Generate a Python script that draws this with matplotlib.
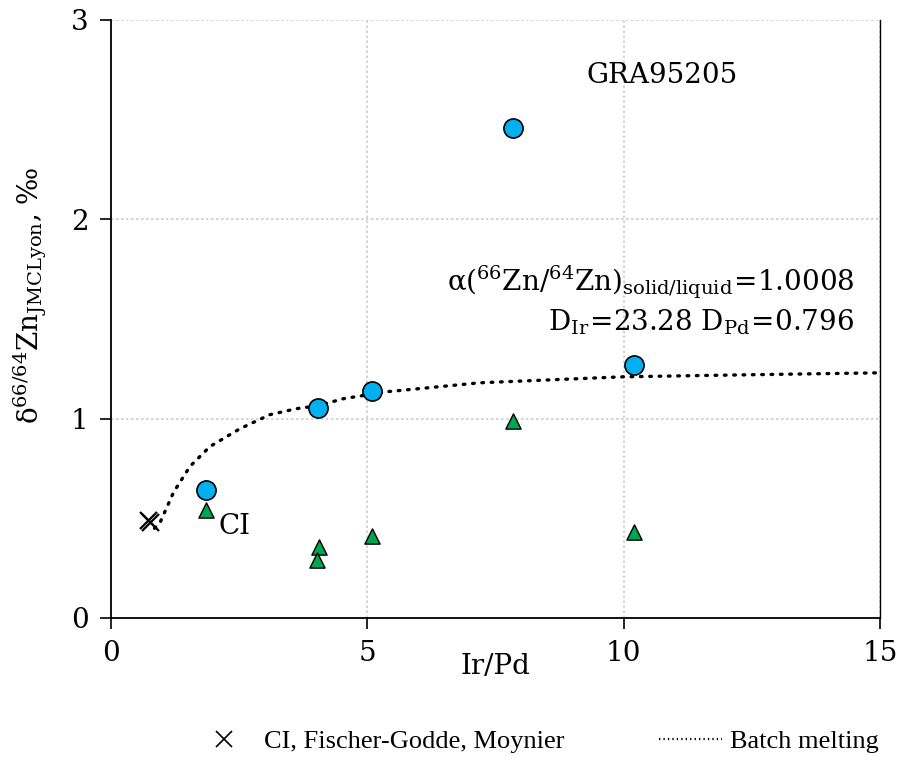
import matplotlib
matplotlib.use("Agg")
import matplotlib.pyplot as plt
from matplotlib.lines import Line2D

plt.rcParams['font.family'] = ['DejaVu Serif']
plt.rcParams['mathtext.fontset'] = 'dejavuserif'

# Measured samples: Ir/Pd ratio vs delta66Zn
circle_x = [1.85, 4.04, 5.09, 7.84, 10.2]
circle_y = [0.64, 1.055, 1.14, 2.46, 1.27]

triangle_x = [1.85, 4.06, 4.02, 5.09, 7.84, 10.2]
triangle_y = [0.54, 0.356, 0.29, 0.41, 0.99, 0.43]

# CI chondrite reference values
ci_x = [0.72, 0.76]
ci_y = [0.49, 0.48]

# Batch melting model curve
batch_x = [0.85, 0.96, 1.22, 1.54, 1.93, 2.52, 3.10, 3.62, 4.04, 4.53, 5.38,
           7.2, 10.0, 12.4, 15.0]
batch_y = [0.45, 0.48, 0.63, 0.76, 0.86, 0.95, 1.02, 1.05, 1.065, 1.10, 1.135,
           1.18, 1.21, 1.22, 1.23]

fig = plt.figure(figsize=(9.02, 7.8), dpi=100)
ax = fig.add_axes([0.123, 0.2077, 0.8526, 0.7667])

ax.plot(batch_x, batch_y, color='black', lw=2.4, linestyle=(0, (0.5, 2.3)),
        dash_capstyle='round', zorder=2)
ax.scatter(ci_x, ci_y, marker='x', s=150, color='black', lw=1.6, zorder=3)
ax.scatter(circle_x, circle_y, marker='o', s=190, color='#00b0f0',
           edgecolor='black', lw=1.2, zorder=4)
ax.scatter(triangle_x, triangle_y, marker='^', s=120, color='#00a651',
           edgecolor='black', lw=1.0, zorder=4)

ax.set_xlim(0, 15)
ax.set_ylim(0, 3)
ax.set_xticks([0, 5, 10, 15])
ax.set_yticks([0, 1, 2, 3])
ax.grid(True, color='#cccccc', linestyle=(0, (1.5, 1.5)), lw=1.2)
ax.set_axisbelow(True)
ax.spines['top'].set_visible(False)
ax.spines['right'].set_linewidth(1.0)
ax.spines['left'].set_linewidth(1.3)
ax.spines['bottom'].set_linewidth(1.3)
ax.tick_params(axis='both', labelsize=20, length=8, width=1.2, pad=8)

ax.set_xlabel('Ir/Pd', fontsize=20, labelpad=-10)
ax.set_ylabel(r'$\mathrm{\delta^{66/64}Zn_{JMCLyon}}$, ‰', fontsize=20)
ax.yaxis.set_label_coords(-0.08, 0.54)

ax.text(10.75, 2.72, 'GRA95205', fontsize=20, ha='center', va='center')
ax.text(14.5, 1.685,
        r'$\mathrm{\alpha(^{66}Zn/^{64}Zn)_{solid/liquid}\!=\!1.0008}$',
        fontsize=20, ha='right', va='center')
ax.text(14.5, 1.485,
        r'$\mathrm{D_{Ir}\!=\!23.28\ D_{Pd}\!=\!0.796}$',
        fontsize=20, ha='right', va='center')
ax.text(2.1, 0.46, 'CI', fontsize=20, ha='left', va='center')

handles = [
    Line2D([], [], marker='x', color='black', linestyle='none', markersize=11, mew=1.2),
    Line2D([], [], color='black', lw=1.6, linestyle=(0, (0.6, 1.4))),
]
fig.legend(handles, ['CI, Fischer-Godde, Moynier', 'Batch melting'],
           loc='center', bbox_to_anchor=(0.594, 0.05), ncol=2, frameon=False,
           prop={'family': 'Liberation Serif', 'size': 19},
           handlelength=2.4, handletextpad=0.3, columnspacing=3.6)

fig.savefig('out.png', dpi=100)
